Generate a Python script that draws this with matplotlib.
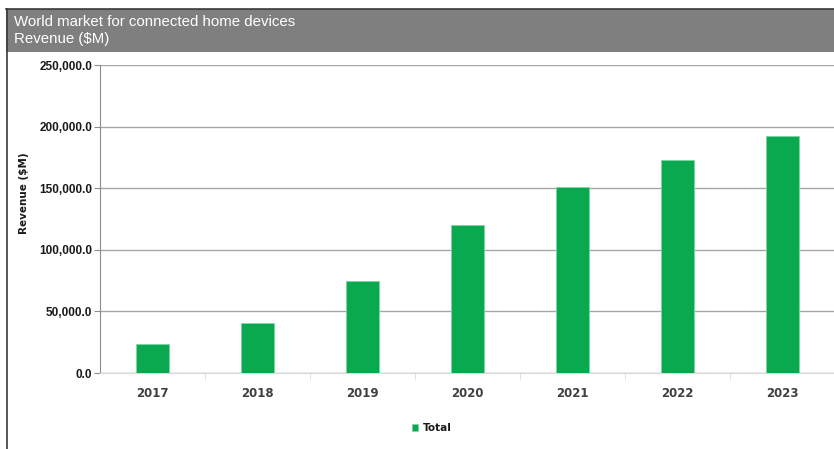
import matplotlib
matplotlib.use("Agg")
import matplotlib.pyplot as plt
from matplotlib.patches import Rectangle
from matplotlib.lines import Line2D
from matplotlib.ticker import FuncFormatter

years = ["2017", "2018", "2019", "2020", "2021", "2022", "2023"]
revenue = [23500, 40600, 74700, 120100, 151000, 172900, 192400]
y_ticks = [0, 50000, 100000, 150000, 200000, 250000]

GREEN = "#0aa84f"
GRID = "#a6a6a6"

plt.rcParams["font.family"] = ["Liberation Sans", "DejaVu Sans"]

fig = plt.figure(figsize=(8.34, 4.49), dpi=100)

# header band and left frame line
fig.patches.append(Rectangle((6 / 834, 1 - 52 / 449), 1, 43 / 449, transform=fig.transFigure,
                             facecolor="#7f7f7f", edgecolor="none", zorder=0))
fig.lines.append(Line2D([6 / 834, 1], [1 - 9 / 449] * 2, transform=fig.transFigure,
                        color="#3a3a3a", lw=1.2))
fig.lines.append(Line2D([6.5 / 834] * 2, [0, 1 - 9 / 449], transform=fig.transFigure,
                        color="#3a3a3a", lw=1.2))
fig.text(14 / 834, 1 - 22 / 449, "World market for connected home devices", color="white",
         fontsize=10.8, va="center", ha="left")
fig.text(14 / 834, 1 - 39 / 449, "Revenue ($M)", color="white",
         fontsize=10.8, va="center", ha="left")

ax = fig.add_axes([100 / 834, 76 / 449, 735 / 834, 308 / 449])
x = list(range(len(years)))
ax.bar(x, revenue, width=0.31, color=GREEN, edgecolor="#7fd6a4", linewidth=0.6,
       zorder=3, label="Total")
ax.set_xlim(-0.5, len(years) - 0.5)
ax.set_ylim(0, 250000)
ax.set_yticks(y_ticks)
ax.yaxis.set_major_formatter(FuncFormatter(lambda v, p: f"{v:,.1f}"))
ax.set_xticks(x)
ax.set_xticklabels(years)
ax.set_xticks([i + 0.5 for i in x[:-1]], minor=True)
ax.grid(axis="y", color=GRID, lw=1.0, zorder=0)
ax.set_axisbelow(True)
for s in ["top", "right"]:
    ax.spines[s].set_visible(False)
ax.spines["left"].set_color("#8c8c8c")
ax.spines["bottom"].set_color("#d9d9d9")
ax.tick_params(axis="y", length=4, color="#8c8c8c", labelsize=8.5, labelcolor="#1a1a1a", pad=1.5)
ax.tick_params(axis="x", which="major", length=0, labelsize=8.5, labelcolor="#404040", pad=10)
ax.tick_params(axis="x", which="minor", length=4, color="#d9d9d9")
for lbl in ax.get_yticklabels():
    lbl.set_fontweight("bold")
for lbl in ax.get_xticklabels():
    lbl.set_fontweight("bold")
    lbl.set_family(["DejaVu Sans"])
ax.set_ylabel("Revenue ($M)", fontsize=7.5, fontweight="bold", color="#1a1a1a",
              family=["DejaVu Sans"])
ax.yaxis.set_label_coords(-0.097, 0.584)

fig.legend(loc="center", bbox_to_anchor=(432 / 834, 1 - 428 / 449), frameon=False,
           prop={"size": 7.5, "weight": "bold", "family": ["DejaVu Sans"]},
           handlelength=0.6, handleheight=0.6, handletextpad=0.5, labelcolor="#1a1a1a")

fig.savefig("out.png", dpi=100, facecolor="white")
